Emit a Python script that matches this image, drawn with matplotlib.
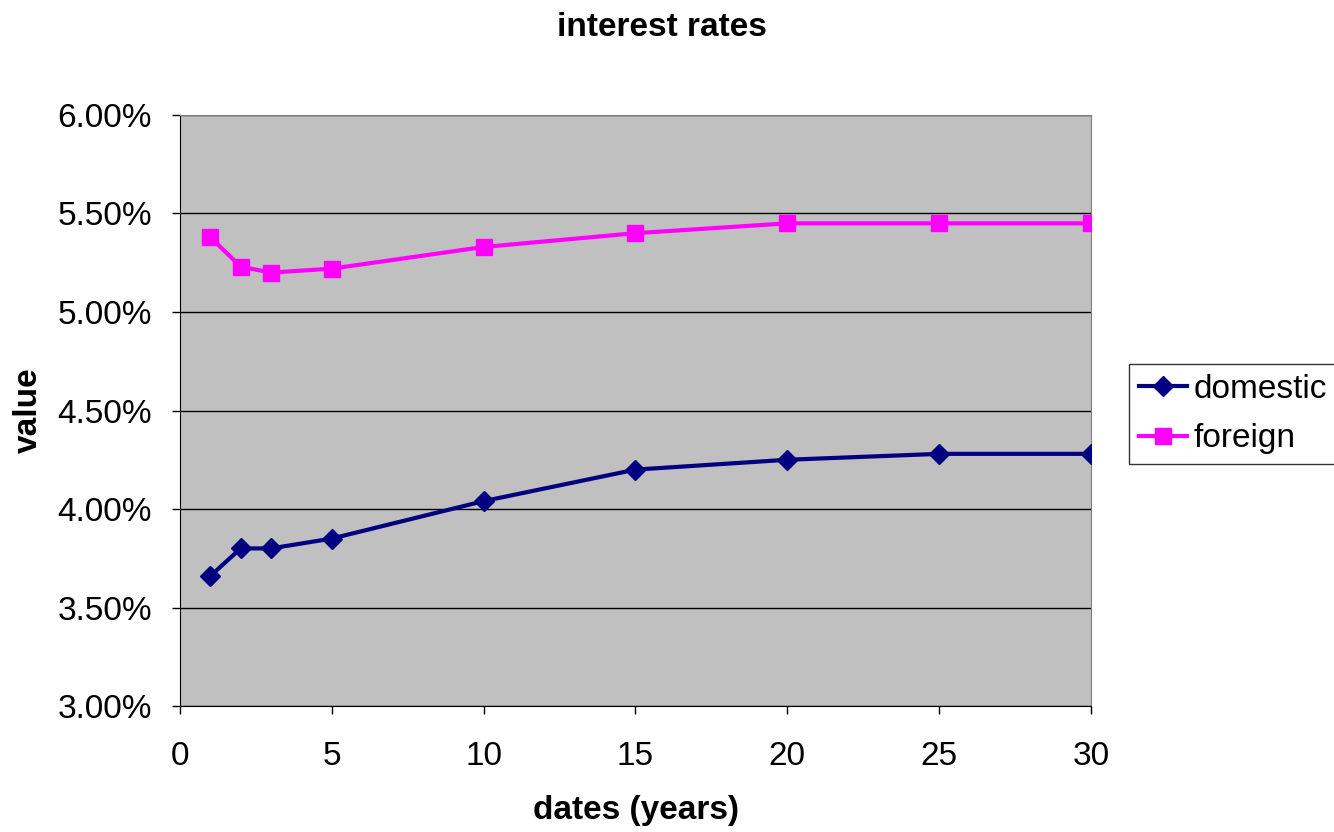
import matplotlib.pyplot as plt
from matplotlib.ticker import FuncFormatter

plt.rcParams['font.family'] = ['Liberation Sans', 'DejaVu Sans']

years = [1, 2, 3, 5, 10, 15, 20, 25, 30]
domestic = [3.66, 3.80, 3.80, 3.85, 4.04, 4.20, 4.25, 4.28, 4.28]
foreign = [5.38, 5.23, 5.20, 5.22, 5.33, 5.40, 5.45, 5.45, 5.45]

fig = plt.figure(figsize=(13.34, 8.32), dpi=100)
ax = fig.add_axes([0.1349, 0.1514, 0.6829, 0.7104])
ax.set_facecolor('#C0C0C0')

ax.plot(years, domestic, color='#000080', lw=3, marker='D', ms=10.5,
        label='domestic', zorder=3)
ax.plot(years, foreign, color='#FF00FF', lw=3, marker='s', ms=12,
        label='foreign', zorder=3)

ax.set_xlim(0, 30)
ax.set_ylim(3.0, 6.0)
ax.set_xticks([0, 5, 10, 15, 20, 25, 30])
ax.set_yticks([3.0, 3.5, 4.0, 4.5, 5.0, 5.5, 6.0])
ax.yaxis.set_major_formatter(FuncFormatter(lambda v, p: f'{v:.2f}%'))
ax.tick_params(labelsize=24, length=6, width=1, color='black')
ax.tick_params(axis='x', pad=19)
ax.tick_params(axis='y', pad=14)
ax.grid(axis='y', color='black', lw=1)
ax.set_axisbelow(True)

for side in ['top', 'right']:
    ax.spines[side].set_color('#808080')
for side in ['left', 'bottom']:
    ax.spines[side].set_color('black')

fig.text(662 / 1334, 1 - 28 / 832, 'interest rates', fontsize=24,
         fontweight='bold', ha='center', va='center')
fig.text(636 / 1334, 1 - 810 / 832, 'dates (years)', fontsize=24,
         fontweight='bold', ha='center', va='center')
fig.text(28 / 1334, 1 - 410 / 832, 'value', fontsize=24,
         fontweight='bold', ha='center', va='center', rotation=90)

leg = fig.legend(loc='upper left', bbox_to_anchor=(1129 / 1334, 1 - 364 / 832),
                 fontsize=24, frameon=True, fancybox=False, edgecolor='black',
                 handlelength=1.45, handletextpad=0.2, borderpad=0.3,
                 labelspacing=0.55, borderaxespad=0)
leg.get_frame().set_linewidth(1)

fig.savefig('out.png', dpi=100)
